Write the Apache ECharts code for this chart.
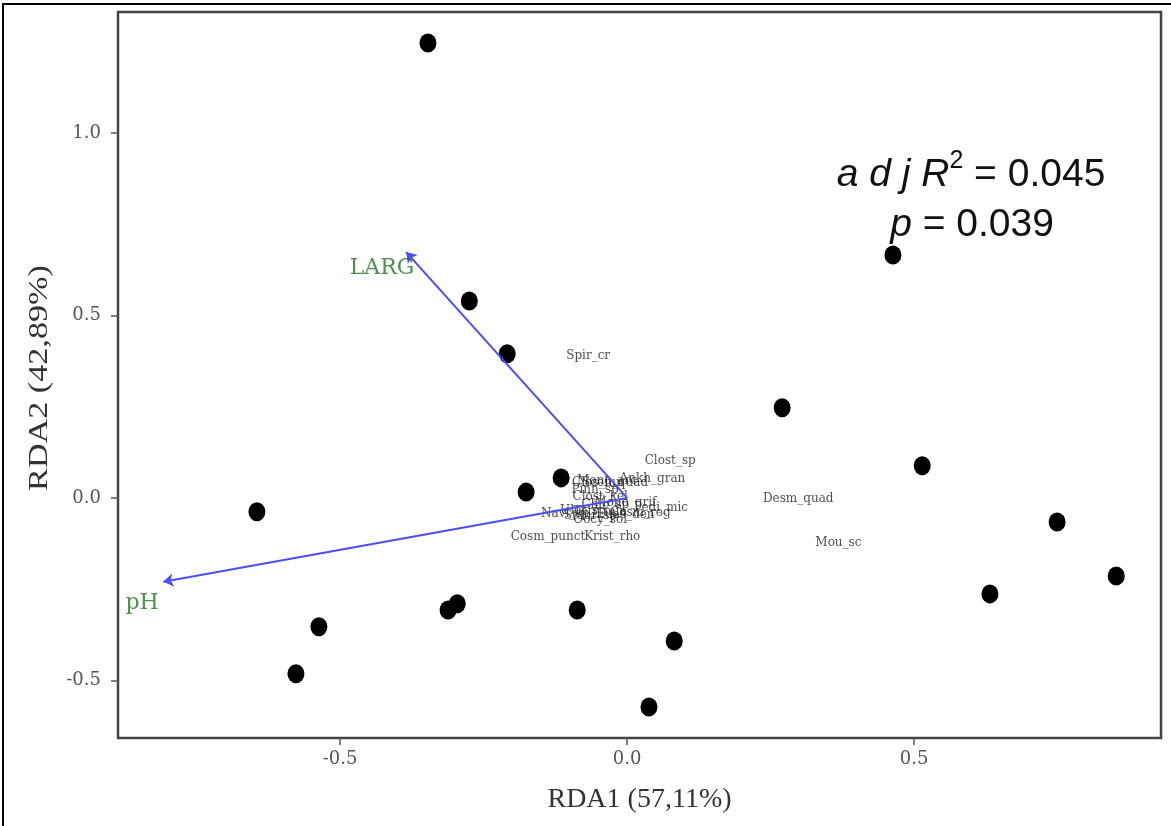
<!DOCTYPE html>
<html>
<head>
<meta charset="utf-8">
<script src="https://cdn.jsdelivr.net/npm/echarts@6/dist/echarts.min.js"></script>
<style>
  html, body { margin: 0; padding: 0; background: #fff; }
</style>
</head>
<body>
<div id="rdaChart" style="width: 1171px;height: 826px"></div>
<script>
  // site scores (RDA1, RDA2)
  const siteX = [-0.347, 0.463, -0.275, -0.209, 0.270, 0.514, -0.115, -0.176, -0.645, 0.749,
    0.852, 0.632, -0.296, -0.312, -0.087, -0.537, 0.082, -0.577, 0.038];
  const siteY = [1.247, 0.666, 0.540, 0.395, 0.247, 0.088, 0.055, 0.016, -0.038, -0.066,
    -0.214, -0.263, -0.290, -0.307, -0.307, -0.353, -0.392, -0.482, -0.573];

  // species scores
  const speciesNames = ['Spir_cr', 'Clost_sp', 'Ankh_gran', 'Mono_arc', 'Clos_lun', 'Clost_kel',
    'Pedi_mic', 'Ulot_sp', 'Oocy_sol', 'Euas_den', 'Staur_sp', 'Navi_sp', 'Cosm_reg',
    'Cosm_punct', 'Krist_rho', 'Desm_quad', 'Mou_sc',
    'Scen_quad', 'Chlo_sp', 'Tetr_min', 'Mono_grif', 'Pinn_sp'];
  const speciesX = [-0.068, 0.075, 0.044, -0.035, -0.051, -0.047, 0.059, -0.077, -0.047,
    -0.003, -0.064, -0.108, 0.023, -0.138, -0.026, 0.298, 0.368,
    -0.021, -0.038, -0.047, -0.003, -0.056];
  const speciesY = [0.389, 0.101, 0.052, 0.047, 0.041, 0.003, -0.027, -0.036, -0.060,
    -0.047, -0.049, -0.044, -0.041, -0.107, -0.107, -0.003, -0.123,
    0.041, -0.019, -0.038, -0.014, 0.022];

  // environmental vectors
  const envNames = ['LARG', 'pH'];
  const envX = [-0.385, -0.808];
  const envY = [0.674, -0.230];
  const envLabelX = [-0.427, -0.845];
  const envLabelY = [0.630, -0.290];

  const xTicks = [-0.5, 0.0, 0.5];
  const yTicks = [-0.5, 0.0, 0.5, 1.0];

  const serif = '"Liberation Serif", "DejaVu Serif", serif';
  const wideSerif = '"DejaVu Serif", serif';
  const sans = '"Liberation Sans", Arial, sans-serif';

  let chart = echarts.init(document.getElementById('rdaChart'));

  let sites = siteX.map((x, i) => [x, siteY[i]]);
  let species = speciesX.map((x, i) => ({name: speciesNames[i], value: [x, speciesY[i]]}));
  let arrows = envX.map((x, i) => ({coords: [[0, 0], [x, envY[i]]]}));
  let envLabels = envLabelX.map((x, i) => ({name: envNames[i], value: [x, envLabelY[i]]}));

  let option = {
    animation: false,
    backgroundColor: '#fff',
    grid: {
      left: 118,
      right: 10,
      top: 12,
      bottom: 88,
      show: true,
      borderColor: '#444',
      borderWidth: 2.5,
      backgroundColor: '#fff'
    },
    xAxis: {
      type: 'value',
      min: -0.887,
      max: 0.930,
      name: 'RDA1 (57,11%)',
      nameLocation: 'middle',
      nameGap: 48,
      nameTextStyle: {fontFamily: serif, fontSize: 28, color: '#333'},
      splitLine: {show: false},
      axisLine: {show: false, onZero: false},
      axisTick: {show: true, length: 7, customValues: xTicks, lineStyle: {color: '#555', width: 1.5}},
      axisLabel: {
        customValues: xTicks,
        margin: 12,
        fontFamily: wideSerif,
        fontSize: 18,
        color: '#555',
        formatter: v => v.toFixed(1)
      }
    },
    yAxis: {
      type: 'value',
      min: -0.658,
      max: 1.332,
      splitLine: {show: false},
      axisLine: {show: false, onZero: false},
      axisTick: {show: true, length: 7, customValues: yTicks, lineStyle: {color: '#555', width: 1.5}},
      axisLabel: {
        customValues: yTicks,
        margin: 17,
        fontFamily: wideSerif,
        fontSize: 18,
        color: '#555',
        formatter: v => v.toFixed(1)
      }
    },
    series: [
      {
        name: 'species',
        type: 'scatter',
        data: species,
        symbolSize: 1,
        itemStyle: {color: 'rgba(0,0,0,0)'},
        label: {
          show: true,
          position: 'inside',
          formatter: p => p.name,
          fontFamily: wideSerif,
          fontSize: 12,
          color: '#222'
        },
        z: 2
      },
      {
        name: 'sites',
        type: 'scatter',
        data: sites,
        symbolSize: [17, 19],
        itemStyle: {color: '#000', opacity: 1},
        z: 3
      },
      {
        name: 'vectors',
        type: 'lines',
        coordinateSystem: 'cartesian2d',
        data: arrows,
        symbol: ['none', 'arrow'],
        symbolSize: 10,
        lineStyle: {color: '#4d4df5', width: 2, opacity: 1},
        z: 4
      },
      {
        name: 'envLabels',
        type: 'scatter',
        data: envLabels,
        symbolSize: 1,
        itemStyle: {color: 'rgba(0,0,0,0)'},
        label: {
          show: true,
          position: 'inside',
          formatter: p => p.name,
          fontFamily: wideSerif,
          fontSize: 22,
          color: '#267326'
        },
        z: 5
      }
    ],
    graphic: [
      {
        type: 'rect',
        shape: {x: 3, y: 4, width: 1300, height: 1000},
        style: {fill: 'none', stroke: '#000', lineWidth: 2},
        silent: true
      },
      {
        type: 'text',
        x: 40,
        y: 378,
        rotation: Math.PI / 2,
        scaleX: 1.22,
        style: {
          text: 'RDA2 (42,89%)',
          align: 'center',
          verticalAlign: 'middle',
          font: '28px "Liberation Serif", serif',
          fill: '#333'
        }
      },
      {
        type: 'text',
        x: 971,
        y: 172,
        style: {
          text: '{i|a d j R}{s|2}{n| = 0.045}',
          align: 'center',
          verticalAlign: 'middle',
          rich: {
            i: {fontFamily: sans, fontStyle: 'italic', fontSize: 39, fill: '#111', lineHeight: 46, verticalAlign: 'bottom'},
            s: {fontFamily: sans, fontSize: 25, fill: '#111', lineHeight: 46, verticalAlign: 'top'},
            n: {fontFamily: sans, fontSize: 39, fill: '#111', lineHeight: 46, verticalAlign: 'bottom'}
          }
        }
      },
      {
        type: 'text',
        x: 972,
        y: 225,
        style: {
          text: '{i|p}{n| = 0.039}',
          align: 'center',
          verticalAlign: 'middle',
          rich: {
            i: {fontFamily: sans, fontStyle: 'italic', fontSize: 39, fill: '#111'},
            n: {fontFamily: sans, fontSize: 39, fill: '#111'}
          }
        }
      }
    ]
  };

  chart.setOption(option);
</script>
</body>
</html>
